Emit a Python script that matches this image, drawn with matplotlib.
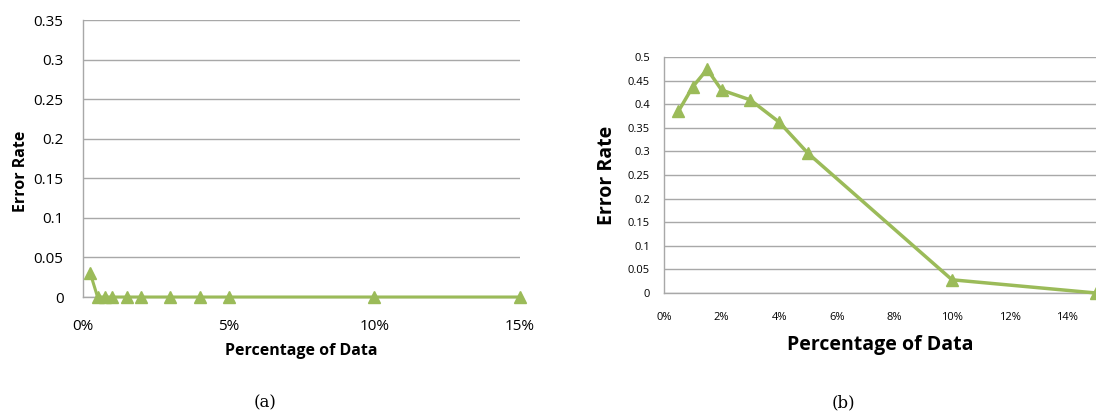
import matplotlib.pyplot as plt
from matplotlib.ticker import FuncFormatter

# data
pct_a = [0.25, 0.5, 0.75, 1, 1.5, 2, 3, 4, 5, 10, 15]
err_a = [0.03, 0, 0, 0, 0, 0, 0, 0, 0, 0, 0]

pct_b = [0.5, 1, 1.5, 2, 3, 4, 5, 10, 15]
err_b = [0.385, 0.437, 0.474, 0.43, 0.409, 0.362, 0.296, 0.028, 0.0]

green = '#9bbb59'
grid_c = '#a8a8a8'
plt.rcParams['font.family'] = ['Open Sans', 'DejaVu Sans']

W, H = 1096, 415
fig = plt.figure(figsize=(W / 100, H / 100), dpi=100)

def box(l, r, t, b):
    return [l / W, 1 - b / H, (r - l) / W, (b - t) / H]

def style(ax, fs):
    for s in ['top', 'right']:
        ax.spines[s].set_visible(False)
    for s in ['left', 'bottom']:
        ax.spines[s].set_color(grid_c)
        ax.spines[s].set_linewidth(1)
    ax.yaxis.grid(True, color=grid_c, linewidth=1)
    ax.set_axisbelow(True)
    ax.tick_params(length=0, labelsize=fs, colors='black')
    ax.xaxis.set_major_formatter(FuncFormatter(lambda v, p: f'{v:.0f}%'))
    ax.yaxis.set_major_formatter(FuncFormatter(lambda v, p: f'{v:g}'))

# (a)
ax1 = fig.add_axes(box(83, 520, 20, 297))
ax1.plot(pct_a, err_a, color=green, lw=2.2, marker='^', ms=9, clip_on=False, zorder=3)
ax1.set_xlim(0, 15)
ax1.set_ylim(0, 0.35)
ax1.set_xticks([0, 5, 10, 15])
ax1.set_yticks([i * 0.05 for i in range(8)])
style(ax1, 11)
ax1.tick_params(axis='x', pad=16)
ax1.tick_params(axis='y', pad=14)
ax1.set_xlabel('Percentage of Data', fontsize=11.5, fontweight='bold', labelpad=6)
ax1.set_ylabel('Error Rate', fontsize=11.5, fontweight='bold')
ax1.yaxis.set_label_coords(-0.124, 0.455)

# (b)
ax2 = fig.add_axes(box(664, 1096, 57, 293))
ax2.plot(pct_b, err_b, color=green, lw=2.5, marker='^', ms=9, clip_on=False, zorder=3)
ax2.set_xlim(0, 15)
ax2.set_ylim(0, 0.5)
ax2.set_xticks(range(0, 15, 2))
ax2.set_yticks([i * 0.05 for i in range(11)])
style(ax2, 8)
ax2.tick_params(axis='x', pad=14)
ax2.tick_params(axis='y', pad=10)
ax2.set_xlabel('Percentage of Data', fontsize=14, fontweight='bold', labelpad=8)
ax2.set_ylabel('Error Rate', fontsize=14, fontweight='bold', labelpad=8)

fig.text(265 / W, 1 - 403 / H, '(a)', family='DejaVu Serif', fontsize=12, ha='center', va='center')
fig.text(843 / W, 1 - 403 / H, '(b)', family='DejaVu Serif', fontsize=12, ha='center', va='center')

fig.savefig('out.png', dpi=100)
